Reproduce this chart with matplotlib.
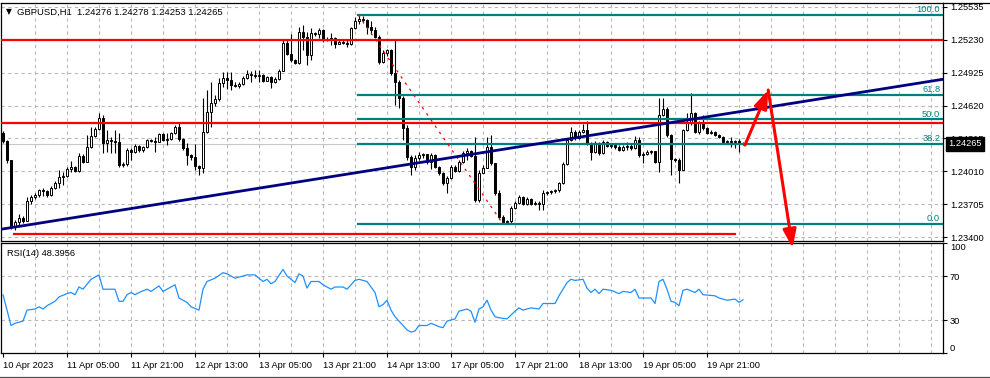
import matplotlib
matplotlib.use("Agg")
from matplotlib import pyplot as plt
from matplotlib.patches import Polygon
from matplotlib.lines import Line2D
import numpy as np

plt.rcParams['font.family'] = ['Liberation Sans', 'DejaVu Sans']

# --- data (GBPUSD H1, one entry per hourly bar) ---
header = "GBPUSD,H1  1.24276 1.24278 1.24253 1.24265"
first_open = 1.24366

close = [
    1.24292, 1.24115, 1.23493, 1.23540, 1.23577, 1.23549, 1.23735, 1.23772, 1.23790, 1.23837,
    1.23828, 1.23790, 1.23855, 1.23902, 1.23957, 1.23967, 1.24032, 1.24050, 1.24013, 1.24152,
    1.24097, 1.24236, 1.24338, 1.24403, 1.24505, 1.24273, 1.24301, 1.24292, 1.24282, 1.24069,
    1.24078, 1.24208, 1.24189, 1.24245, 1.24208, 1.24236, 1.24301, 1.24292, 1.24282, 1.24357,
    1.24301, 1.24310, 1.24366, 1.24421, 1.24310, 1.24227, 1.24162, 1.24143, 1.24060, 1.24041,
    1.24375, 1.24561, 1.24644, 1.24681, 1.24830, 1.24876, 1.24858, 1.24811, 1.24802, 1.24820,
    1.24876, 1.24913, 1.24904, 1.24895, 1.24904, 1.24848, 1.24885, 1.24839, 1.24867, 1.24941,
    1.25201, 1.25099, 1.25043, 1.25015, 1.25303, 1.25257, 1.25090, 1.25294, 1.25284, 1.25322,
    1.25238, 1.25229, 1.25247, 1.25192, 1.25210, 1.25201, 1.25192, 1.25340, 1.25405, 1.25424,
    1.25414, 1.25349, 1.25322, 1.25257, 1.25025, 1.25108, 1.25136, 1.24923, 1.24839, 1.24691,
    1.24412, 1.24143, 1.24050, 1.24134, 1.24162, 1.24171, 1.24097, 1.24162, 1.24050, 1.23995,
    1.23902, 1.23948, 1.24050, 1.24013, 1.24097, 1.24180, 1.24199, 1.24152, 1.23744, 1.23995,
    1.24041, 1.24236, 1.24087, 1.23809, 1.23586, 1.23540, 1.23549, 1.23670, 1.23716, 1.23772,
    1.23707, 1.23753, 1.23707, 1.23716, 1.23707, 1.23809, 1.23818, 1.23828, 1.23837, 1.23902,
    1.24078, 1.24301, 1.24375, 1.24319, 1.24375, 1.24394, 1.24273, 1.24189, 1.24273, 1.24180,
    1.24282, 1.24245, 1.24254, 1.24236, 1.24208, 1.24236, 1.24245, 1.24227, 1.24301, 1.24162,
    1.24171, 1.24189, 1.24199, 1.24097, 1.24533, 1.24588, 1.24347, 1.24125, 1.24115, 1.24022,
    1.24394, 1.24459, 1.24551, 1.24375, 1.24459, 1.24412, 1.24366, 1.24375, 1.24347, 1.24329,
    1.24282, 1.24292, 1.24282, 1.24292, 1.24276, 1.24265,
]
high = [
    1.24384, 1.24301, 1.24115, 1.23558, 1.23614, 1.23596, 1.23772, 1.23790, 1.23809, 1.23846,
    1.23855, 1.23837, 1.23874, 1.23920, 1.24022, 1.24004, 1.24050, 1.24106, 1.24060, 1.24180,
    1.24171, 1.24347, 1.24421, 1.24421, 1.24551, 1.24533, 1.24394, 1.24329, 1.24394, 1.24366,
    1.24097, 1.24227, 1.24227, 1.24264, 1.24254, 1.24245, 1.24310, 1.24310, 1.24329, 1.24366,
    1.24366, 1.24366, 1.24375, 1.24440, 1.24459, 1.24319, 1.24273, 1.24171, 1.24264, 1.24069,
    1.24691, 1.24765, 1.24839, 1.24718, 1.24876, 1.24932, 1.24932, 1.24932, 1.24839, 1.24839,
    1.24895, 1.24950, 1.24941, 1.24950, 1.24950, 1.24913, 1.24895, 1.24895, 1.24885, 1.24960,
    1.25229, 1.25229, 1.25284, 1.25052, 1.25349, 1.25368, 1.25303, 1.25340, 1.25303, 1.25340,
    1.25331, 1.25257, 1.25294, 1.25257, 1.25238, 1.25229, 1.25238, 1.25349, 1.25442, 1.25461,
    1.25452, 1.25424, 1.25405, 1.25349, 1.25275, 1.25136, 1.25145, 1.25145, 1.25229, 1.24858,
    1.24709, 1.24440, 1.24162, 1.24162, 1.24189, 1.24180, 1.24171, 1.24180, 1.24171, 1.24060,
    1.24004, 1.23967, 1.24069, 1.24069, 1.24115, 1.24199, 1.24227, 1.24208, 1.24329, 1.24022,
    1.24069, 1.24329, 1.24347, 1.24087, 1.23837, 1.23605, 1.23558, 1.23688, 1.23735, 1.23790,
    1.23781, 1.23772, 1.23763, 1.23735, 1.23735, 1.23837, 1.23828, 1.23837, 1.23846, 1.23911,
    1.24097, 1.24319, 1.24421, 1.24394, 1.24394, 1.24449, 1.24477, 1.24282, 1.24292, 1.24282,
    1.24301, 1.24292, 1.24273, 1.24273, 1.24254, 1.24254, 1.24282, 1.24264, 1.24338, 1.24329,
    1.24189, 1.24208, 1.24208, 1.24199, 1.24691, 1.24691, 1.24607, 1.24357, 1.24134, 1.24134,
    1.24403, 1.24551, 1.24737, 1.24560, 1.24477, 1.24533, 1.24421, 1.24394, 1.24384, 1.24357,
    1.24338, 1.24301, 1.24329, 1.24301, 1.24310, 1.24278,
]
low = [
    1.24273, 1.24087, 1.23475, 1.23466, 1.23503, 1.23531, 1.23549, 1.23707, 1.23753, 1.23772,
    1.23781, 1.23772, 1.23781, 1.23846, 1.23855, 1.23883, 1.23957, 1.24004, 1.24004, 1.24004,
    1.24087, 1.24097, 1.24227, 1.24329, 1.24394, 1.24180, 1.24189, 1.24180, 1.24180, 1.24050,
    1.24050, 1.24060, 1.24115, 1.24180, 1.24189, 1.24189, 1.24227, 1.24282, 1.24189, 1.24282,
    1.24292, 1.24254, 1.24301, 1.24357, 1.24292, 1.24208, 1.24069, 1.24115, 1.24022, 1.23976,
    1.23995, 1.24366, 1.24421, 1.24616, 1.24663, 1.24793, 1.24774, 1.24765, 1.24793, 1.24783,
    1.24811, 1.24867, 1.24839, 1.24876, 1.24839, 1.24839, 1.24848, 1.24783, 1.24830, 1.24858,
    1.24941, 1.25090, 1.25025, 1.25006, 1.25006, 1.25136, 1.24997, 1.25043, 1.25266, 1.25247,
    1.25210, 1.25220, 1.25182, 1.25155, 1.25192, 1.25192, 1.25164, 1.25182, 1.25331, 1.25377,
    1.25387, 1.25284, 1.25284, 1.25247, 1.25006, 1.25015, 1.25080, 1.24904, 1.24626, 1.24598,
    1.24301, 1.24115, 1.23976, 1.24022, 1.24115, 1.24134, 1.24078, 1.24032, 1.24041, 1.23976,
    1.23883, 1.23809, 1.23939, 1.24004, 1.24004, 1.24087, 1.24115, 1.24143, 1.23725, 1.23725,
    1.23995, 1.24041, 1.24069, 1.23790, 1.23568, 1.23521, 1.23521, 1.23531, 1.23660, 1.23707,
    1.23698, 1.23698, 1.23698, 1.23698, 1.23651, 1.23651, 1.23790, 1.23800, 1.23809, 1.23818,
    1.23892, 1.24069, 1.24292, 1.24301, 1.24310, 1.24366, 1.24254, 1.24115, 1.24180, 1.24162,
    1.24171, 1.24236, 1.24227, 1.24217, 1.24199, 1.24199, 1.24208, 1.24208, 1.24217, 1.24143,
    1.24087, 1.24162, 1.24171, 1.24087, 1.24004, 1.24524, 1.24329, 1.23976, 1.24097, 1.23902,
    1.24022, 1.24384, 1.24440, 1.24366, 1.24357, 1.24394, 1.24357, 1.24357, 1.24338, 1.24319,
    1.24273, 1.24273, 1.24236, 1.24227, 1.24189, 1.24253,
]

rsi_bar = [0, 2, 3, 5, 6, 8, 9, 10, 11, 13,
           14, 16, 17, 18, 19, 20, 22, 24, 25, 27,
           28, 29, 30, 31, 32, 33, 34, 36, 37, 39,
           40, 41, 43, 44, 46, 47, 49, 50, 51, 53,
           55, 56, 58, 61, 63, 65, 66, 67, 68, 70,
           71, 73, 74, 75, 76, 77, 79, 80, 82, 83,
           85, 86, 88, 89, 91, 93, 94, 95, 96, 97,
           98, 101, 102, 103, 104, 106, 107, 109, 110, 111,
           113, 114, 116, 117, 118, 119, 120, 121, 122, 123,
           124, 126, 128, 129, 130, 132, 134, 135, 138, 139,
           141, 142, 143, 145, 146, 147, 148, 149, 150, 152,
           154, 155, 157, 158, 159, 162, 163, 164, 165, 166,
           167, 168, 169, 170, 171, 173, 174, 175, 178, 179,
           181, 183, 184, 185]
rsi_val = [53, 25, 27, 29, 39, 40, 42, 40, 43, 47,
           51, 54, 55, 53, 60, 58, 67, 71, 58, 58,
           58, 47, 47, 53, 55, 53, 55, 58, 56, 61,
           56, 58, 62, 50, 46, 42, 39, 58, 65, 68,
           73, 72, 68, 71, 71, 65, 67, 63, 65, 76,
           70, 64, 72, 70, 59, 65, 65, 62, 58, 60,
           60, 58, 66, 67, 65, 55, 42, 44, 48, 39,
           33, 21, 19, 20, 25, 25, 27, 24, 23, 29,
           31, 38, 40, 38, 28, 40, 42, 48, 39, 33,
           32, 31, 38, 41, 39, 41, 40, 45, 45, 52,
           64, 67, 66, 67, 59, 55, 58, 54, 58, 57,
           54, 56, 55, 58, 50, 50, 45, 65, 67, 58,
           47, 46, 43, 57, 58, 55, 58, 53, 52, 50,
           48, 49, 46, 48.3956]

price_ticks = [1.25535, 1.25230, 1.24925, 1.24620, 1.24315, 1.24010, 1.23705, 1.23400]
time_labels = ["10 Apr 2023", "11 Apr 05:00", "11 Apr 21:00", "12 Apr 13:00",
               "13 Apr 05:00", "13 Apr 21:00", "14 Apr 13:00", "17 Apr 05:00",
               "17 Apr 21:00", "18 Apr 13:00", "19 Apr 05:00", "19 Apr 21:00"]
time_label_bar = [0, 16, 32, 48, 64, 80, 96, 112, 128, 144, 160, 176]

# drawn objects
resistance = [1.25232, 1.24462]
support = 1.23426
support_bars = (2.8, 183)
fib_high, fib_low = 1.25463, 1.23523
fib_from, fib_to = 88.8, 125
fib_levels = [0.0, 38.2, 50.0, 61.8, 100.0]
trend_a = (0, 1.23476)
trend_b = (185, 1.24569)
arrow_path = [(185.5, 1.24254), (191.3, 1.24765), (197.4, 1.23300)]

W, H = 990, 378
fig = plt.figure(figsize=(W / 100, H / 100), dpi=100)
fig.patch.set_facecolor('white')


def box(x0, y0, x1, y1):
    return [x0 / W, 1 - y1 / H, (x1 - x0) / W, (y1 - y0) / H]


ax = fig.add_axes(box(1, 3, 943, 241))
rx = fig.add_axes(box(1, 243, 943, 353))
ax.set_zorder(3)

grid_kw = dict(color='#b8b8b8', lw=0.8, ls=(0, (3, 3)), zorder=0)
for a in (ax, rx):
    a.set_xlim(-0.5, 235)
    for s in a.spines.values():
        s.set_linewidth(0.9)
        s.set_color('black')
    for b in range(8, 236, 8):
        a.axvline(b, **grid_kw)

ax.set_ylim(1.23364, 1.25572)
rx.set_ylim(0, 100)
for p in price_ticks:
    ax.axhline(p, **grid_kw)
for p in (30, 70):
    rx.axhline(p, **grid_kw)

# candles
n = len(close)
idx = np.arange(n)
c = np.array(close)
o = np.array([first_open] + close[:-1])
up = c >= o
ax.vlines(idx, low, high, color='black', lw=0.8, zorder=2)
body = np.maximum(np.abs(c - o), 0.000015)
ax.bar(idx[up], body[up], bottom=o[up], width=0.6, color='white',
       edgecolor='black', linewidth=0.7, zorder=3)
ax.bar(idx[~up], body[~up], bottom=c[~up], width=0.6, color='black',
       edgecolor='black', linewidth=0.7, zorder=3)

# bid line
ax.axhline(close[-1], color='#c8c8c8', lw=0.8, zorder=1)

# horizontal levels
for lv in resistance:
    ax.axhline(lv, color='red', lw=1.6, zorder=4)
ax.plot(support_bars, [support, support], color='red', lw=1.6, zorder=4)

# fibonacci
teal = '#008080'
for lv in fib_levels:
    y = fib_low + lv / 100 * (fib_high - fib_low)
    ax.plot([fib_from, 235], [y, y], color=teal, lw=1.6, zorder=4)
    ax.text(234.3, y + 0.00006, "%.1f" % lv, color=teal, fontsize=6.7,
            ha='right', va='bottom', zorder=6)
ax.plot([fib_from, fib_to], [fib_high, fib_low], color='red', lw=0.9,
        ls=(0, (2, 4)), zorder=4)

# trend line (ray)
slope = (trend_b[1] - trend_a[1]) / (trend_b[0] - trend_a[0])
tx = np.array([-0.5, 235])
ax.plot(tx, trend_a[1] + slope * (tx - trend_a[0]), color='#000080', lw=2, zorder=5)

# red arrows
for (x0, y0), (x1, y1) in zip(arrow_path[:-1], arrow_path[1:]):
    an = ax.annotate('', xy=(x1, y1), xytext=(x0, y0), annotation_clip=False,
                     arrowprops=dict(arrowstyle='-|>,head_length=1.1,head_width=0.4',
                                     color='red', lw=2.2, shrinkA=0, shrinkB=0,
                                     mutation_scale=10), zorder=7)
    an.arrow_patch.set_clip_on(False)

# price axis
ax.set_xticks([])
ax.yaxis.tick_right()
ax.set_yticks(price_ticks)
ax.set_yticklabels(["%.5f" % p for p in price_ticks])
ax.tick_params(axis='y', length=3, width=0.8, pad=2, labelsize=6.7)
ax.text(1.0055, close[-1], "%.5f" % close[-1], transform=ax.get_yaxis_transform(),
        color='white', fontsize=6.7, ha='left', va='center', clip_on=False, zorder=10,
        bbox=dict(boxstyle='square,pad=0.25', fc='black', ec='black'))

# RSI panel
rx.plot(rsi_bar, rsi_val, color='#1e90ff', lw=0.9, zorder=3)
rx.yaxis.tick_right()
rx.set_yticks([0, 30, 70, 100])
rx.set_yticklabels(["0", "30", "70", "100"])
rx.tick_params(axis='y', length=3, width=0.8, pad=2, labelsize=6.7)
lbls = rx.get_yticklabels()
lbls[0].set_va('bottom')
lbls[3].set_va('top')
rx.set_xticks(time_label_bar)
rx.set_xticklabels(time_labels)
rx.tick_params(axis='x', length=3, width=0.8, pad=3, labelsize=6.7)
for t in rx.get_xticklabels():
    t.set_ha('left')
rx.text(0.006, 0.9, "RSI(14) %.4f" % rsi_val[-1], transform=rx.transAxes,
        fontsize=6.7, ha='left', va='center')

# header
fig.text(6 / W, 1 - 12 / H, "\u25bc", fontsize=5.5, ha='left', va='center',
         family='DejaVu Sans')
fig.text(17 / W, 1 - 12 / H, header, fontsize=6.8, ha='left', va='center')

# frame bits
fig.add_artist(Line2D([943 / W, 1], [1 - 2.5 / H] * 2, color='black', lw=0.9))
fig.add_artist(Line2D([0, 1], [1 - 376.5 / H] * 2, color='#505050', lw=0.9))
fig.add_artist(Polygon([(749 / W, 1 - 4 / H), (757 / W, 1 - 4 / H), (753 / W, 1 - 9 / H)],
                       closed=True, color='#a8a8a8', transform=fig.transFigure))

fig.savefig("out.png", dpi=100)
